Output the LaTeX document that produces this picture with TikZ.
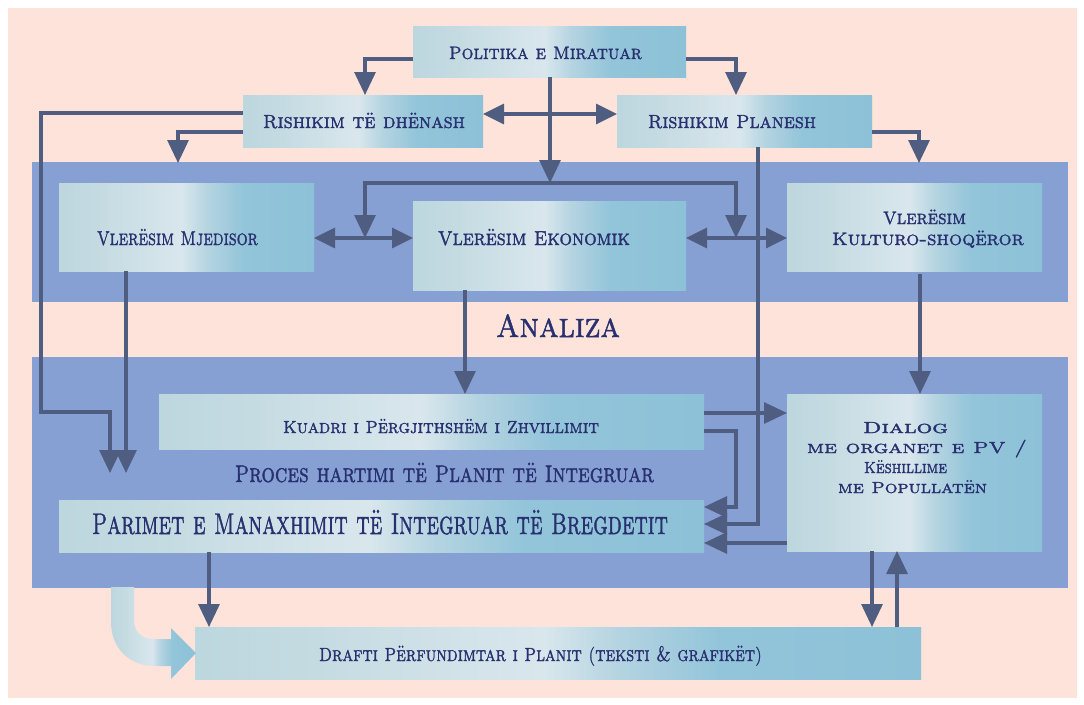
\documentclass[tikz,border=0pt]{standalone}
\usepackage{graphicx}
\usepackage{fontspec}
\newfontfamily\capsf{lmromancaps10-regular.otf}[FakeBold=1.5]
\usetikzlibrary{arrows.meta}
\definecolor{pinkbg}{HTML}{FDE3DA}
\definecolor{bandc}{HTML}{87A0D3}
\definecolor{linec}{HTML}{4E5D80}
\definecolor{navy}{HTML}{28306F}
\definecolor{bxA}{HTML}{BDD7DE}
\definecolor{bxB}{HTML}{C3DAE1}
\definecolor{bxC}{HTML}{D9E7ED}
\definecolor{bxD}{HTML}{B5D4E1}
\definecolor{bxE}{HTML}{93C5DA}
\definecolor{bxF}{HTML}{8CC1D7}
\pgfdeclarehorizontalshading{boxshade}{100bp}{color(0bp)=(bxA); color(25bp)=(bxA); color(32bp)=(bxB); color(49bp)=(bxC); color(54bp)=(bxD); color(61bp)=(bxE); color(75bp)=(bxF); color(100bp)=(bxF)}
\newcommand\fitw[2]{\resizebox{#1pt}{\height}{#2}}
\newcommand\initc[1]{\scalebox{0.91}{#1}}
\tikzset{
  bx/.style={shade, shading=boxshade, draw=none, inner sep=0pt, outer sep=0pt},
  lbl/.style={text=navy, inner sep=0pt, anchor=base},
  ln/.style={draw=linec, line width=3.1pt},
  arr/.style={ln, -{Triangle[length=23pt,width=21pt]}},
  darr/.style={ln, {Triangle[length=21pt,width=20pt]}-{Triangle[length=21pt,width=20pt]}}
}
\begin{document}
\begin{tikzpicture}[x=1pt,y=-1pt]
\useasboundingbox (0,0) rectangle (1084,704);
\fill[white] (0,0) rectangle (1084,704);
\fill[pinkbg] (8,8) rectangle (1077,698);
% bands
\fill[bandc] (32,162) rectangle (1068,302);
\fill[bandc] (32,357) rectangle (1068,588);
% boxes
\node[bx, minimum width=273pt, minimum height=51pt] (pol) at (549.5,51.5) {};
\node[bx, minimum width=240pt, minimum height=52pt] (rd) at (363,121) {};
\node[bx, minimum width=255pt, minimum height=52pt] (rp) at (744.5,121) {};
\node[bx, minimum width=255pt, minimum height=88pt] (vm) at (186.5,227) {};
\node[bx, minimum width=273pt, minimum height=89pt] (ve) at (549.5,245.5) {};
\node[bx, minimum width=255pt, minimum height=88pt] (vk) at (914.5,227) {};
\node[bx, minimum width=545pt, minimum height=55pt] (kd) at (431.5,421.5) {};
\node[bx, minimum width=645pt, minimum height=52pt] (pm) at (381.5,526) {};
\node[bx, minimum width=255pt, minimum height=157pt] (dl) at (914.5,472.5) {};
\node[bx, minimum width=726pt, minimum height=52pt] (df) at (558,653) {};
% fat arrow
\path[shade, shading=boxshade] (111,587) -- (111,622) .. controls (111,647) and (128,666) .. (155,666)
  -- (171,666) -- (171,679) -- (196,653) -- (171,628) -- (171,639) -- (153,639)
  .. controls (142,639) and (134,632) .. (134,620) -- (134,587) -- cycle;
% texts
\node[lbl, font=\fontsize{19.8}{22}\capsf] (tpol) at (545.5,59) {\fitw{193}{\initc{P}olitika e \initc{M}iratuar}};
\node[lbl, font=\fontsize{20.9}{23}\capsf] (trd) at (364,128) {\fitw{202}{\initc{R}ishikim të dhënash}};
\node[lbl, font=\fontsize{20.9}{23}\capsf] (trp) at (732,128) {\fitw{168}{\initc{R}ishikim \initc{P}lanesh}};
\node[lbl, font=\fontsize{22}{24}\capsf] (tvm) at (177.5,245) {\fitw{161}{\initc{V}lerësim \initc{M}jedisor}};
\node[lbl, font=\fontsize{22}{24}\capsf] (tve) at (534,245) {\fitw{192}{\initc{V}lerësim \initc{E}konomik}};
\node[lbl, font=\fontsize{19.8}{22}\capsf] (tvk1) at (924.5,224) {\fitw{83}{\initc{V}lerësim}};
\node[lbl, font=\fontsize{19.8}{22}\capsf] (tvk2) at (928,245) {\fitw{192}{\initc{K}ulturo-shoqëror}};
\node[lbl, font=\fontsize{35}{37}\capsf] (tan) at (558,337) {\fitw{124}{\initc{A}naliza}};
\node[lbl, font=\fontsize{19.2}{21}\capsf] (tkd) at (441,433) {\fitw{316}{\initc{K}uadri i \initc{P}ërgjithshëm i \initc{Z}hvillimit}};
\node[lbl, font=\fontsize{26.4}{28}\capsf] (tpr) at (444.5,482) {\fitw{419}{\initc{P}roces hartimi të \initc{P}lanit të \initc{I}ntegruar}};
\node[lbl, font=\fontsize{33}{35}\capsf] (tpm) at (380,534) {\fitw{576}{\initc{P}arimet e \initc{M}anaxhimit të \initc{I}ntegruar të \initc{B}regdetit}};
\node[lbl, font=\fontsize{17.6}{19}\capsf] (tdl1) at (905.5,433) {\fitw{85}{\initc{D}ialog}};
\node[lbl, font=\fontsize{17.6}{19}\capsf] (tdl2) at (917,453) {\fitw{220}{me organet e \initc{PV} /}};
\node[lbl, font=\fontsize{17.6}{19}\capsf] (tdl3) at (905.5,473) {\fitw{83}{\initc{K}ëshillime}};
\node[lbl, font=\fontsize{17.6}{19}\capsf] (tdl4) at (912.5,493) {\fitw{149}{me \initc{P}opullatën}};
\node[lbl, font=\fontsize{20.9}{23}\capsf] (tdf) at (540.5,661) {\fitw{443}{\initc{D}rafti \initc{P}ërfundimtar i \initc{P}lanit \initc{(}teksti \& grafikët\initc{)}}};
% coordinates
\coordinate (jc) at (550,183);
\coordinate (tl) at (365,238);
\coordinate (tr) at (736,238);
\coordinate (b1) at (178,163);
\coordinate (b2) at (919,163);
\coordinate (pin1) at (110,473);
\coordinate (pin2) at (126,473);
% connectors
\draw[arr] ([yshift=-7.5pt]pol.west) -| ([xshift=2pt]rd.north);
\draw[arr] ([yshift=-7.5pt]pol.east) -| ([xshift=-8.5pt]rp.north);
\draw[arr] ([xshift=0.5pt]pol.south) -- (jc);
\draw[arr] (jc) -| (tl);
\draw[arr] (jc) -| (tr);
\draw[darr] ([yshift=7pt]rd.east) -- ([yshift=7pt]rp.west);
\draw[arr] ([yshift=8pt]rd.west) -| (41,412) -| (pin1);
\draw[arr] ([yshift=-11pt]rd.west) -| (b1);
\draw[arr] ([yshift=-11pt]rp.east) -| (b2);
\draw[arr] ([xshift=13.5pt]rp.south) |- ([yshift=2pt]pm.east);
\draw[arr] ([xshift=-60.5pt]vm.south) -- (pin2);
\draw[arr] ([xshift=-84.5pt]ve.south) -- ([xshift=33.5pt]kd.north);
\draw[arr] ([xshift=5.5pt,yshift=-3pt]vk.south) -- ([xshift=5.5pt]dl.north);
\draw[darr] (vm.east |- tl) -- (ve.west |- tl);
\draw[darr] (ve.east |- tr) -- (vk.west |- tr);
\draw[arr] ([yshift=8.5pt]kd.east) -- ([yshift=8.5pt]kd.east -| dl.west);
\draw[arr] ([yshift=-9.5pt]kd.east) -| (736,507) -- ([yshift=19pt]pm.east);
\draw[arr] ([yshift=-70.5pt]dl.west) -- ([yshift=-70.5pt]dl.west -| pm.east);
\draw[arr] ([xshift=-172.5pt]pm.south) -- ([xshift=-349pt]df.north);
\draw[arr] ([xshift=-42.5pt]dl.south) -- ([xshift=314pt]df.north);
\draw[arr] ([xshift=339pt]df.north) -- ([xshift=-17.5pt]dl.south);
\end{tikzpicture}
\end{document}
